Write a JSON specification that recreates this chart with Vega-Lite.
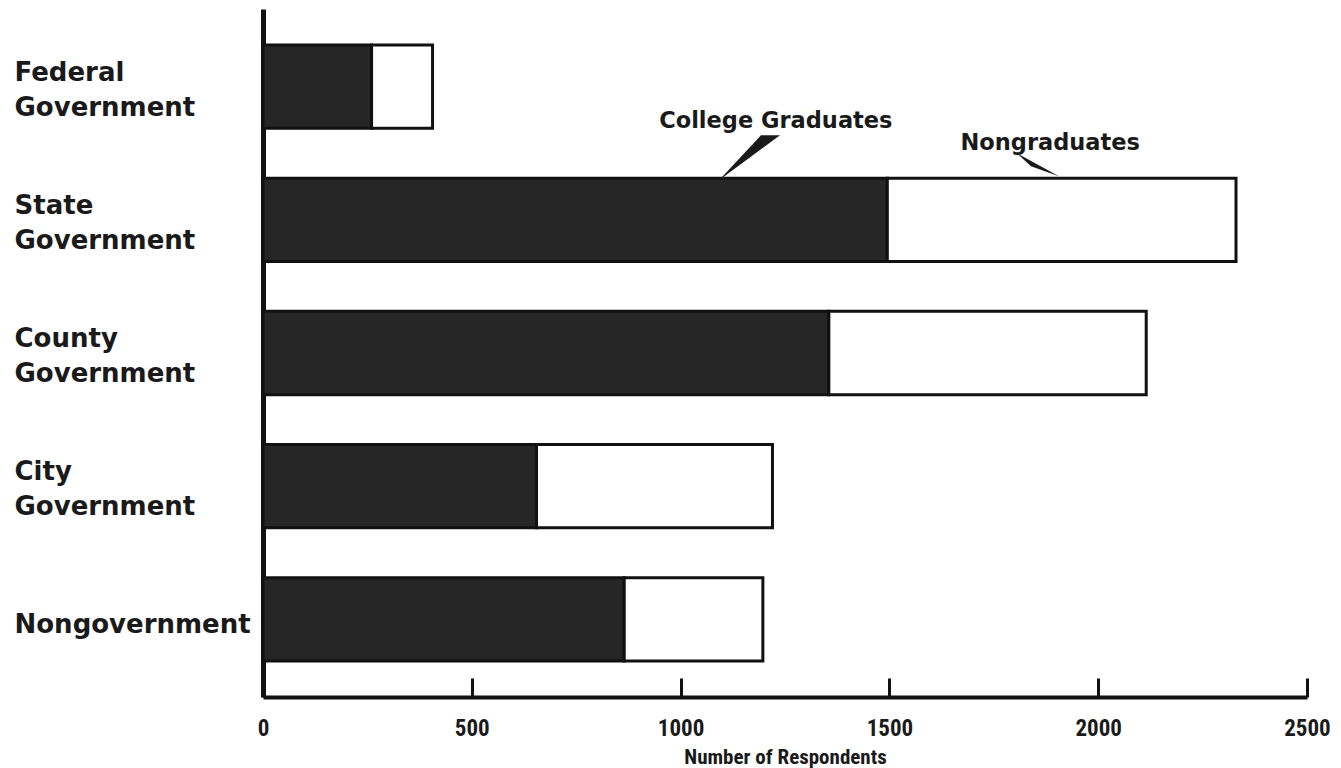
{
  "$schema": "https://vega.github.io/schema/vega-lite/v6.json",
  "autosize": {"type": "none"},
  "width": 1044,
  "height": 688,
  "padding": {"left": 263, "top": 9, "right": 34, "bottom": 71},
  "background": "#ffffff",
  "config": {"view": {"stroke": null}},
  "datasets": {
    "bars": [
      {"category": "Federal Government", "group": "College Graduates", "count": 260},
      {"category": "Federal Government", "group": "Nongraduates", "count": 146},
      {"category": "State Government", "group": "College Graduates", "count": 1495},
      {"category": "State Government", "group": "Nongraduates", "count": 835},
      {"category": "County Government", "group": "College Graduates", "count": 1355},
      {"category": "County Government", "group": "Nongraduates", "count": 760},
      {"category": "City Government", "group": "College Graduates", "count": 655},
      {"category": "City Government", "group": "Nongraduates", "count": 565},
      {"category": "Nongovernment", "group": "College Graduates", "count": 865},
      {"category": "Nongovernment", "group": "Nongraduates", "count": 332}
    ],
    "labels": [
      {"category": "State Government", "label": "College Graduates", "count": 1228, "lift": -50},
      {"category": "State Government", "label": "Nongraduates", "count": 1885, "lift": -28}
    ],
    "pointers": [
      {"category": "State Government", "pointer": "College Graduates", "count": 1092},
      {"category": "State Government", "pointer": "Nongraduates", "count": 1906}
    ]
  },
  "layer": [
    {
      "data": {"name": "bars"},
      "mark": {"type": "bar", "stroke": "#111111", "strokeWidth": 3},
      "encoding": {
        "y": {
          "field": "category",
          "type": "nominal",
          "sort": ["Federal Government", "State Government", "County Government", "City Government", "Nongovernment"],
          "scale": {"paddingInner": 0.375, "paddingOuter": 0.27},
          "axis": {
            "title": null,
            "ticks": false,
            "domainColor": "#111111",
            "domainWidth": 5,
            "labelAlign": "left",
            "labelBaseline": "middle",
            "labelPadding": 249,
            "labelExpr": "split(datum.label, ' ')",
            "labelLineHeight": 35,
            "labelFont": "DejaVu Sans",
            "labelFontWeight": "bold",
            "labelFontSize": 26,
            "labelColor": "#1a1a1a",
            "labelLimit": 300,
            "labelOffset": {"condition": {"test": "datum.label == 'Nongovernment'", "value": 6}, "value": -14}
          }
        },
        "x": {
          "field": "count",
          "type": "quantitative",
          "stack": "zero",
          "scale": {"domain": [0, 2500], "nice": false},
          "axis": {
            "title": "Number of Respondents",
            "values": [0, 500, 1000, 1500, 2000, 2500],
            "format": "d",
            "grid": false,
            "domainColor": "#111111",
            "domainWidth": 4,
            "tickColor": "#111111",
            "tickWidth": 3,
            "tickSize": -19,
            "labelPadding": 39,
            "labelFont": "Liberation Sans Narrow, Roboto Condensed, DejaVu Sans Condensed, Roboto, sans-serif",
            "labelFontWeight": "bold",
            "labelFontSize": 23,
            "labelColor": "#1a1a1a",
            "labelFlush": false,
            "titleFont": "Liberation Sans Narrow, Roboto Condensed, DejaVu Sans Condensed, Roboto, sans-serif",
            "titleFontWeight": "bold",
            "titleFontSize": 21,
            "titleColor": "#1a1a1a",
            "titlePadding": 6
          }
        },
        "color": {
          "field": "group",
          "type": "nominal",
          "scale": {"domain": ["College Graduates", "Nongraduates"], "range": ["#262626", "#ffffff"]},
          "legend": null
        }
      }
    },
    {
      "data": {"name": "labels"},
      "mark": {"type": "text", "font": "DejaVu Sans", "fontWeight": "bold", "fontSize": 22.5, "align": "center", "baseline": "alphabetic", "color": "#1a1a1a"},
      "encoding": {
        "y": {"field": "category", "type": "nominal", "bandPosition": 0, "sort": ["Federal Government", "State Government", "County Government", "City Government", "Nongovernment"]},
        "x": {"field": "count", "type": "quantitative"},
        "yOffset": {"field": "lift", "type": "quantitative", "scale": null},
        "text": {"field": "label"}
      }
    },
    {
      "data": {"name": "pointers"},
      "mark": {"type": "point", "filled": true, "size": 4, "opacity": 1, "color": "#1a1a1a"},
      "encoding": {
        "y": {"field": "category", "type": "nominal", "bandPosition": 0, "sort": ["Federal Government", "State Government", "County Government", "City Government", "Nongovernment"]},
        "x": {"field": "count", "type": "quantitative"},
        "shape": {
          "field": "pointer",
          "type": "nominal",
          "scale": {"domain": ["College Graduates", "Nongraduates"], "range": ["M0,2 L42,-43 L61,-43 Z", "M-42,-25 L-28,-12 L0,-2 Z"]},
          "legend": null
        }
      }
    }
  ]
}
